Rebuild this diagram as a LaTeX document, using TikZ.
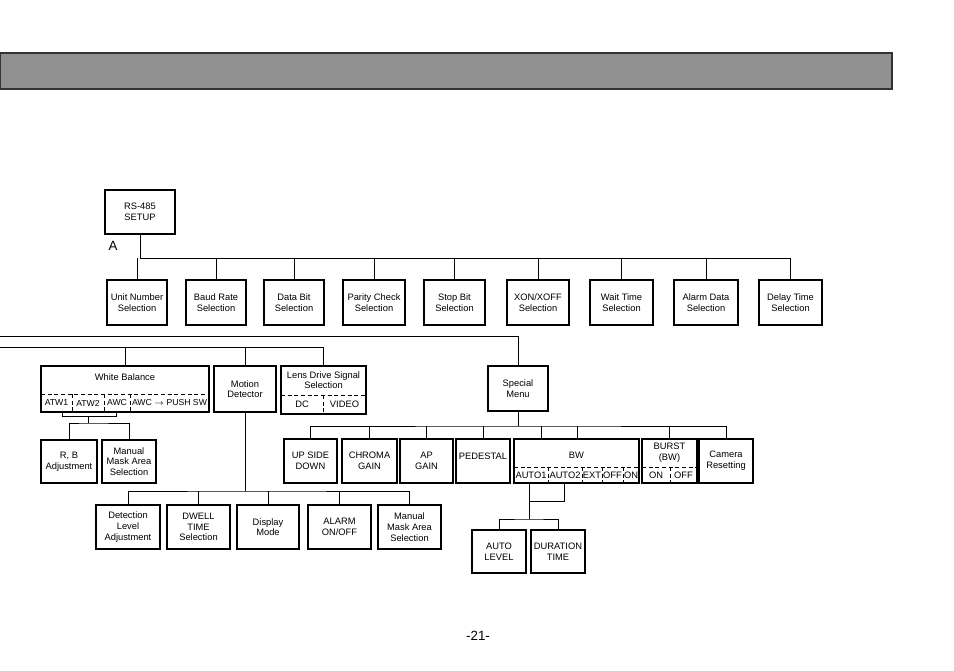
\documentclass[tikz,border=0pt]{standalone}
\usepackage{fontspec}
\setmainfont{Liberation Sans}
\begin{document}
\begin{tikzpicture}[x=0.75pt,y=-0.75pt,line width=0.8pt,
  box/.style={draw,inner sep=0pt,align=center,font=\fontsize{7}{8}\selectfont},
  lbl/.style={inner sep=0pt,align=center,font=\fontsize{7}{8}\selectfont},
  dsh/.style={dashed,dash pattern=on 3pt off 2pt,line width=0.6pt},
  ln/.style={line width=0.6pt}]
\newcommand\bx[6]{\pgfmathsetmacro\bw{(#4-#2)*0.75}\pgfmathsetmacro\bh{(#5-#3)*0.75}%
  \node[box,minimum width=\bw pt,minimum height=\bh pt] (#1) at ({(#2+#4)/2},{(#3+#5)/2}) {#6};}
\useasboundingbox (0,0) rectangle (954,671);
\fill[gray!75!black!70,draw=black!80] (0,53) rectangle (892,89);
% RS-485
\bx{rs}{105}{190}{175}{234}{RS-485\\SETUP}
\node[lbl,font=\fontsize{10}{12}\selectfont] (A) at (113,246) {A};
\bx{un}{107}{280}{167}{325}{Unit Number\\Selection}
\bx{br}{186}{280}{246}{325}{Baud Rate\\Selection}
\bx{db}{264}{280}{324}{325}{Data Bit\\Selection}
\bx{pc}{343}{280}{405}{325}{Parity Check\\Selection}
\bx{sb}{424}{280}{485}{325}{Stop Bit\\Selection}
\bx{xo}{507}{280}{569}{325}{XON/XOFF\\Selection}
\bx{wt}{590}{280}{653}{325}{Wait Time\\Selection}
\bx{ad}{674}{280}{738}{325}{Alarm Data\\Selection}
\bx{dt}{759}{280}{822}{325}{Delay Time\\Selection}
\coordinate (b1) at (140,258);
\draw[ln] (rs.south) -- (b1) -- (b1 -| dt.north);
\foreach \n in {un,br,db,pc,sb,xo,wt,ad,dt} \draw[ln] (b1 -| \n.north) -- (\n.north);
% left lines
\bx{wb}{41}{366}{209}{412}{}
\node[lbl] (wbt) at (125,377) {White Balance};
\draw[dsh] (41,394) -- (209,394);
\foreach \x in {72,104,130} \draw[dsh] (\x,394) -- (\x,412);
\node[lbl,font=\fontsize{6.5}{8}\selectfont] (w1) at (56.5,403) {ATW1};
\node[lbl,font=\fontsize{6.5}{8}\selectfont] (w2) at (88,403) {ATW2};
\node[lbl,font=\fontsize{6.5}{8}\selectfont] (w3) at (117,403) {AWC};
\node[lbl,font=\fontsize{6.5}{8}\selectfont] (w4) at (169.5,403) {AWC $\rightarrow$ PUSH SW};
\bx{md}{214}{366}{276}{412}{Motion\\Detector}
\bx{ld}{281}{366}{366}{414}{}
\node[lbl] (ldt) at (323.5,380) {Lens Drive Signal\\[-1pt]Selection};
\draw[dsh] (281,395) -- (366,395) (323,395) -- (323,414);
\node[lbl] (dc) at (302,404.5) {DC};
\node[lbl] (vid) at (344.5,404.5) {VIDEO};
\bx{sm}{488}{366}{548}{411}{Special\\Menu}
\coordinate (L1) at (0,336); \coordinate (L2) at (0,347);
\draw[ln] (L1) -- (L1 -| sm.north) -- (sm.north);
\draw[ln] (L2) -| (ld.north);
\draw[ln] (L2 -| wb.north) -- (wb.north);
\draw[ln] (L2 -| md.north) -- (md.north);
% WB children
\bx{rb}{41}{440}{97}{483}{R, B\\Adjustment}
\bx{mm1}{102}{440}{156}{483}{Manual\\Mask Area\\Selection}
\draw[ln] (62,412) -- (62,416) -- (116,416) -- (116,412);
\coordinate (wbb) at (88,423);
\draw[ln] (88,416) -- (wbb);
\draw[ln] (rb.north) |- (wbb) -| (mm1.north);
% motion children
\bx{dl}{96}{505}{160}{549}{Detection\\Level\\Adjustment}
\bx{dw}{167}{505}{230}{549}{DWELL\\TIME\\Selection}
\bx{dm}{237}{505}{299}{549}{Display\\Mode}
\bx{al}{308}{505}{371}{549}{ALARM\\ON/OFF}
\bx{mm2}{378}{505}{441}{549}{Manual\\Mask Area\\Selection}
\coordinate (mb) at (245,491);
\draw[ln] (md.south -| mb) -- (mb);
\draw[ln] (dl.north) |- (mb) -| (mm2.north);
\foreach \n in {dw,dm,al} \draw[ln] (mb -| \n.north) -- (\n.north);
% special children
\bx{ud}{284}{439}{337}{483}{UP SIDE\\DOWN}
\bx{cg}{342}{439}{397}{483}{CHROMA\\GAIN}
\bx{ap}{400}{439}{453}{483}{AP\\GAIN}
\bx{pd}{456}{439}{510}{483}{}
\node[lbl] (pdt) at (483,456) {PEDESTAL};
\bx{bw}{514}{439}{639}{483}{}
\node[lbl] (bwt) at (576.5,455) {BW};
\draw[dsh] (514,467) -- (639,467);
\foreach \x in {548,582,602,623} \draw[dsh] (\x,467) -- (\x,483);
\node[lbl] (a1) at (531,475.5) {AUTO1};
\node[lbl] (a2) at (565,475.5) {AUTO2};
\node[lbl] (ex) at (592,475.5) {EXT};
\node[lbl] (of) at (612.5,475.5) {OFF};
\node[lbl] (on) at (631,475.5) {ON};
\bx{bu}{642}{439}{697}{483}{}
\node[lbl] (but) at (669.5,453) {BURST\\(BW)};
\draw[dsh] (642,467) -- (697,467) (670,467) -- (670,483);
\node[lbl] (bon) at (656,475.5) {ON};
\node[lbl] (boff) at (683.5,475.5) {OFF};
\bx{cr}{699}{439}{753}{483}{Camera\\Resetting}
\coordinate (sb2) at (518,426);
\draw[ln] (sm.south) -- (sb2);
\draw[ln] (ud.north) |- (sb2) -| (cr.north);
\foreach \n in {cg,ap,pd} \draw[ln] (sb2 -| \n.north) -- (\n.north);
\draw[ln] (541,426) -- (541,439) (577,426) -- (577,439) (669,426) -- (669,439);
% BW children
\bx{alv}{472}{530}{526}{573}{AUTO\\LEVEL}
\bx{du}{531}{530}{585}{573}{DURATION\\TIME}
\coordinate (bwb) at (529,519);
\draw[ln] (564,483) -- (564,501) -- (529,501);
\draw[ln] (529,483) -- (bwb);
\draw[ln] (alv.north) |- (bwb) -| (du.north);
\node[lbl,font=\fontsize{10}{12}\selectfont] (pg) at (478,636) {-21-};
\end{tikzpicture}
\end{document}
